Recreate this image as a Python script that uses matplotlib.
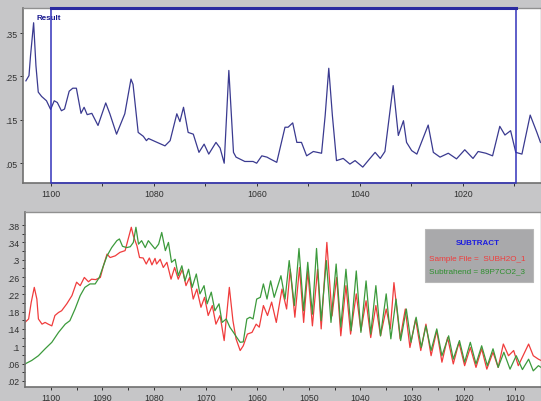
import numpy as np
import matplotlib
matplotlib.use("Agg")
import matplotlib.pyplot as plt
from matplotlib.patches import Rectangle

# top panel - "Result" trace (wavenumber, absorbance)
res_w = [1104.8, 1104.2, 1103.9, 1103.3, 1102.85, 1102.4, 1101.75, 1100.8, 1100.0, 1099.3,
         1098.7, 1097.9, 1097.3, 1096.4, 1095.7, 1095.0, 1094.1, 1093.5, 1092.9, 1092.0,
         1090.8, 1089.3, 1088.5, 1087.2, 1085.6, 1084.4, 1084.0, 1083.0, 1082.0, 1081.4,
         1081.0, 1079.7, 1077.8, 1076.8, 1075.5, 1074.9, 1074.2, 1073.3, 1072.3, 1071.2,
         1070.2, 1069.3, 1067.9, 1067.1, 1066.3, 1065.4, 1064.5, 1064.0, 1062.3, 1060.7,
         1060.0, 1059.0, 1058.0, 1057.4, 1056.1, 1054.5, 1053.9, 1053.0, 1052.2, 1051.3,
         1050.3, 1049.0, 1047.4, 1046.7, 1046.0, 1045.3, 1044.5, 1043.2, 1041.9, 1040.9,
         1039.4, 1038.0, 1037.0, 1036.0, 1035.1, 1033.5, 1032.5, 1031.5, 1030.9, 1029.9,
         1028.9, 1026.7, 1025.7, 1024.4, 1022.8, 1021.2, 1019.6, 1018.0, 1017.0, 1015.5,
         1014.2, 1012.8, 1011.8, 1010.7, 1009.7, 1008.5, 1006.9, 1005.6, 1004.9]
res_v = [0.240, 0.252, 0.298, 0.374, 0.275, 0.214, 0.204, 0.194, 0.174, 0.194,
         0.190, 0.171, 0.175, 0.216, 0.223, 0.223, 0.165, 0.179, 0.162, 0.165,
         0.137, 0.189, 0.164, 0.117, 0.164, 0.244, 0.232, 0.121, 0.112, 0.102,
         0.107, 0.100, 0.090, 0.102, 0.164, 0.146, 0.179, 0.121, 0.117, 0.075,
         0.094, 0.071, 0.098, 0.085, 0.050, 0.264, 0.075, 0.064, 0.054, 0.054,
         0.050, 0.067, 0.064, 0.060, 0.052, 0.133, 0.133, 0.143, 0.098, 0.098,
         0.067, 0.077, 0.073, 0.160, 0.269, 0.160, 0.056, 0.061, 0.048, 0.056,
         0.041, 0.061, 0.075, 0.061, 0.077, 0.229, 0.114, 0.148, 0.098, 0.079,
         0.071, 0.138, 0.075, 0.064, 0.073, 0.060, 0.081, 0.061, 0.077, 0.073,
         0.067, 0.135, 0.115, 0.125, 0.075, 0.071, 0.161, 0.121, 0.098]

# bottom panel - sample (red)
smp_w = [1105.0, 1104.3, 1103.8, 1103.2, 1102.7, 1102.4, 1101.7, 1101.1, 1100.5, 1099.8,
         1099.2, 1098.5, 1097.9, 1096.9, 1095.9, 1095.0, 1094.3, 1093.5, 1092.7, 1092.1,
         1091.3, 1090.4, 1089.8, 1089.1, 1088.5, 1087.5, 1086.6, 1085.6, 1085.0, 1084.4,
         1084.0, 1083.3, 1082.8, 1082.1, 1081.5, 1080.9, 1080.4, 1079.8,
         1079.5, 1078.8, 1078.2, 1077.5, 1076.7, 1076.0, 1075.3, 1074.5, 1073.8, 1073.1,
         1072.4, 1071.7, 1070.9, 1070.2, 1069.5, 1068.7, 1068.0, 1067.2, 1066.4, 1065.4,
         1064.7, 1064.1, 1063.3, 1062.7, 1061.9, 1061.0, 1060.2, 1059.6, 1058.8, 1058.0,
         1057.2, 1056.3,
         1055.2, 1054.3, 1053.6, 1052.7, 1051.8, 1051.0, 1050.2, 1049.3, 1048.3, 1047.6,
         1046.5, 1045.5, 1044.6, 1043.8, 1042.8, 1041.9, 1040.8, 1039.9, 1038.9, 1038.0,
         1037.0, 1036.1, 1035.0, 1034.2, 1033.5, 1032.3, 1031.3, 1030.4, 1029.3, 1028.3,
         1027.3, 1026.3, 1025.2, 1024.2, 1023.1, 1022.0, 1020.9, 1019.8, 1018.7, 1017.6,
         1016.5, 1015.5, 1014.3, 1013.3, 1012.3, 1011.3, 1010.3, 1009.4, 1007.4, 1006.5,
         1005.5, 1005.0]
smp_v = [0.155, 0.163, 0.201, 0.236, 0.209, 0.163, 0.151, 0.155, 0.151, 0.147,
         0.171, 0.178, 0.182, 0.198, 0.217, 0.248, 0.240, 0.259, 0.249, 0.255,
         0.254, 0.259, 0.286, 0.313, 0.305, 0.309, 0.317, 0.321, 0.348, 0.375,
         0.355, 0.332, 0.305, 0.304, 0.290, 0.304, 0.288, 0.303,
         0.290, 0.301, 0.282, 0.294, 0.255, 0.282, 0.255, 0.278, 0.240, 0.259,
         0.209, 0.232, 0.190, 0.213, 0.171, 0.194, 0.151, 0.171, 0.113, 0.236,
         0.159, 0.117, 0.090, 0.101, 0.128, 0.132, 0.151, 0.144, 0.194, 0.171,
         0.202, 0.155,
         0.232, 0.186, 0.278, 0.167, 0.282, 0.155, 0.274, 0.147, 0.278, 0.140,
         0.340, 0.170, 0.259, 0.124, 0.240, 0.128, 0.221, 0.136, 0.205, 0.120,
         0.194, 0.124, 0.186, 0.140, 0.247, 0.117, 0.186, 0.097, 0.163, 0.090,
         0.151, 0.078, 0.136, 0.063, 0.120, 0.059, 0.109, 0.055, 0.097, 0.051,
         0.094, 0.047, 0.086, 0.051, 0.105, 0.078, 0.090, 0.055, 0.105, 0.078,
         0.070, 0.067]

# bottom panel - subtrahend (green)
sub_w = [1105.0, 1103.7, 1102.4, 1101.1, 1099.8, 1098.5, 1097.2, 1096.3, 1095.3, 1094.3,
         1093.4, 1092.4, 1091.4, 1090.6, 1089.8, 1089.1, 1088.2, 1087.2, 1086.7, 1086.1,
         1085.3, 1084.6, 1084.0, 1083.5, 1083.0, 1082.4, 1081.7, 1081.1,
         1079.8, 1079.1, 1078.5, 1077.8, 1077.2, 1076.6, 1075.9, 1075.3, 1074.6, 1074.0,
         1073.3, 1072.6, 1071.8, 1071.1, 1070.3, 1069.7, 1068.9, 1068.2, 1067.4, 1066.8,
         1066.0, 1065.3, 1064.6, 1064.0, 1063.3, 1062.7, 1062.0, 1061.4, 1060.8, 1060.1,
         1059.4, 1058.8, 1058.1, 1057.4, 1056.7,
         1055.4, 1054.6, 1053.8, 1052.8, 1051.9, 1051.0, 1050.2, 1049.3, 1048.5, 1047.6,
         1046.6, 1045.7, 1044.7, 1043.8, 1042.8, 1041.8, 1040.8, 1039.9, 1038.9, 1038.0,
         1037.0, 1036.1, 1035.0, 1034.1, 1033.1, 1032.2, 1031.1, 1030.2, 1029.2, 1028.2,
         1027.3, 1026.3, 1025.2, 1024.2, 1022.9, 1022.0, 1020.8, 1019.8, 1018.7, 1017.6,
         1016.5, 1015.4, 1014.3, 1013.3, 1012.2, 1011.0, 1009.8, 1008.6, 1007.4, 1006.5,
         1005.5, 1005.0]
sub_v = [0.059, 0.067, 0.078, 0.094, 0.109, 0.132, 0.151, 0.159, 0.186, 0.217,
         0.236, 0.244, 0.244, 0.259, 0.286, 0.309, 0.328, 0.344, 0.348, 0.331,
         0.328, 0.330, 0.340, 0.375, 0.336, 0.344, 0.328, 0.344,
         0.325, 0.336, 0.363, 0.321, 0.340, 0.294, 0.301, 0.263, 0.286, 0.251,
         0.278, 0.236, 0.267, 0.221, 0.240, 0.198, 0.225, 0.182, 0.198, 0.155,
         0.163, 0.144, 0.132, 0.121, 0.109, 0.110, 0.163, 0.167, 0.163, 0.209,
         0.213, 0.244, 0.209, 0.251, 0.213,
         0.263, 0.209, 0.298, 0.194, 0.326, 0.182, 0.294, 0.174, 0.326, 0.159,
         0.298, 0.155, 0.290, 0.144, 0.278, 0.136, 0.274, 0.132, 0.251, 0.128,
         0.240, 0.124, 0.221, 0.117, 0.209, 0.113, 0.186, 0.109, 0.167, 0.097,
         0.147, 0.090, 0.140, 0.078, 0.124, 0.070, 0.113, 0.063, 0.109, 0.059,
         0.101, 0.055, 0.094, 0.051, 0.086, 0.047, 0.078, 0.046, 0.070, 0.043,
         0.055, 0.051]

top_yt = [0.05, 0.15, 0.25, 0.35]
top_ylab = ['.05', '.15', '.25', '.35']
bot_yt = [0.02, 0.06, 0.10, 0.14, 0.18, 0.22, 0.26, 0.30, 0.34, 0.38]
bot_ylab = ['.02', '.06', '.1', '.14', '.18', '.22', '.26', '.3', '.34', '.38']

bg = '#c6c6c8'
plt.rcParams['font.family'] = ['Liberation Sans', 'DejaVu Sans']

fig = plt.figure(figsize=(5.41, 4.02), dpi=100, facecolor=bg)

def style_ax(ax):
    for s in ['left', 'bottom']:
        ax.spines[s].set_color('#707070')
        ax.spines[s].set_linewidth(1.2)
    for s in ['top', 'right']:
        ax.spines[s].set_color('#909090')
        ax.spines[s].set_linewidth(1.0)
    ax.tick_params(which='both', labelsize=6.3, colors='#303030', length=2.5, width=0.7, pad=1.5)
    ax.tick_params(which='minor', length=2)

# top panel
ax1 = fig.add_axes([0.0431, 0.5415, 0.9569, 0.4361])
ax1.plot(res_w, res_v, color='#3a3a90', lw=0.9)
ax1.set_xlim(1105.3, 1004.8)
ax1.set_ylim(0.0036, 0.408)
ax1.set_xticks([1100, 1080, 1060, 1040, 1020])
ax1.set_xticks([1090, 1070, 1050, 1030, 1010], minor=True)
ax1.set_yticks(top_yt)
ax1.set_yticklabels(top_ylab)
style_ax(ax1)
sel = Rectangle((1100, 0.0036), 1009.7 - 1100, 0.404, fill=False, ec='#3333bb', lw=1.1, clip_on=False, zorder=5)
ax1.add_patch(sel)
ax1.plot([1100, 1009.7], [0.408, 0.408], color='#2a2aa0', lw=2.2, clip_on=False, zorder=6)
ax1.text(0.026, 0.945, 'Result', transform=ax1.transAxes, fontsize=5.8, fontweight='bold',
         color='#1a1a90', va='center')

# bottom panel
ax2 = fig.add_axes([0.0462, 0.0341, 0.9538, 0.4368])
ax2.plot(smp_w, smp_v, color='#f03c3c', lw=0.9)
ax2.plot(sub_w, sub_v, color='#3c9a3c', lw=0.9)
ax2.set_xlim(1105.0, 1005.0)
ax2.set_ylim(0.005, 0.411)
ax2.set_xticks(np.arange(1100, 1005, -10))
ax2.set_xticks(np.arange(1095, 1005, -10), minor=True)
ax2.set_yticks(bot_yt)
ax2.set_yticklabels(bot_ylab)
ax2.set_yticks(np.arange(0.04, 0.40, 0.04), minor=True)
style_ax(ax2)

ax2.add_patch(Rectangle((0.775, 0.600), 0.209, 0.301, transform=ax2.transAxes,
                        fc='#a9a9ab', ec='#b8b8b8', lw=0.8, zorder=6))
ax2.text(0.878, 0.822, 'SUBTRACT', transform=ax2.transAxes, fontsize=5.8, fontweight='bold',
         color='#1c1ce0', ha='center', va='center', zorder=7)
ax2.text(0.782, 0.731, 'Sample File =  SUBH2O_1', transform=ax2.transAxes, fontsize=5.9,
         color='#f03c3c', va='center', zorder=7)
ax2.text(0.782, 0.662, 'Subtrahend = 89P7CO2_3', transform=ax2.transAxes, fontsize=5.9,
         color='#2f8f2f', va='center', zorder=7)

fig.savefig('out.png', dpi=100, facecolor=bg)
